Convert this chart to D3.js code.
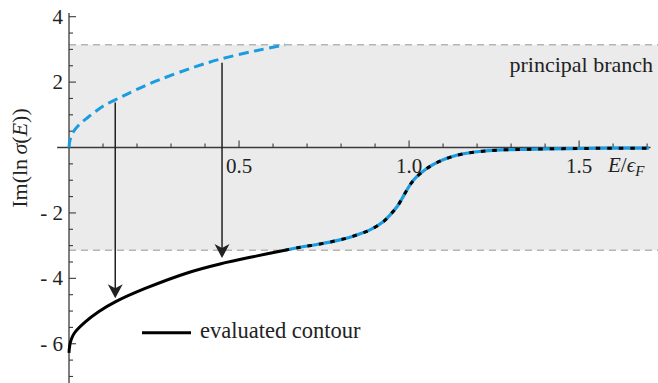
<!DOCTYPE html>
<html><head><meta charset="utf-8">
<script src="https://cdn.jsdelivr.net/npm/d3@7"></script>
<style>html,body{margin:0;padding:0;background:#fff;}svg{display:block;}</style>
</head><body>
<svg id="chart" width="658" height="383"></svg>
<script>
// ---- data ----
// principal-branch (blue dashed) part, below the jump at E ≈ 0.635
const xBlue = [0, 0.003, 0.013, 0.03, 0.052, 0.075, 0.101, 0.15, 0.2, 0.268, 0.366, 0.444, 0.55, 0.635];
const yBlue = [0, 0.23, 0.48, 0.70, 0.89, 1.08, 1.27, 1.53, 1.78, 2.08, 2.45, 2.70, 2.96, 3.14];
// evaluated contour (black solid) part below the jump
const xBlack = [0, 0.001, 0.004, 0.01, 0.019, 0.048, 0.087, 0.136, 0.224, 0.352, 0.444, 0.55, 0.635];
const yBlack = [-6.28, -6.15, -5.96, -5.78, -5.63, -5.33, -5.02, -4.72, -4.31, -3.82, -3.56, -3.32, -3.14];
// common part (both curves coincide) above the jump
const xCommon = [0.635, 0.68, 0.738, 0.79, 0.836, 0.885, 0.924, 0.945, 0.964, 0.98, 0.993, 1.007, 1.022, 1.052, 1.086, 1.12, 1.16, 1.21, 1.258, 1.33, 1.405, 1.5, 1.6, 1.705];
const yCommon = [-3.14, -3.05, -2.95, -2.84, -2.71, -2.52, -2.27, -2.05, -1.82, -1.55, -1.31, -1.08, -0.90, -0.64, -0.44, -0.30, -0.19, -0.12, -0.08, -0.06, -0.04, -0.03, -0.02, -0.02];
// arrows: x position, start y, end y
const arrowX = [0.136, 0.45];
const arrowFrom = [1.38, 2.59];
const arrowTo = [-4.61, -3.38];
// ticks
const xMajorTicks = [0.5, 1.0, 1.5];
const xTickLabels = ["0.5", "1.0", "1.5"];
const yMajorTicks = [4, 2, -2, -4, -6];
const yTickLabels = ["4", "2", "- 2", "- 4", "- 6"];
const branchBounds = [Math.PI, -Math.PI];
const legendLabel = "evaluated contour";
const bandLabel = "principal branch";

// ---- drawing ----
const svg = d3.select("#chart");
const FONT = "'Liberation Serif', 'Times New Roman', serif";
const x = d3.scaleLinear().domain([0, 1.732]).range([69, 658]);
const y = d3.scaleLinear().domain([-7.2, 4.113]).range([383, 13]);
const blue = "#1a9ce0";
const axisCol = "#3a3a3a";

// shaded principal-branch band
svg.append("rect")
  .attr("x", x(0)).attr("y", y(branchBounds[0]))
  .attr("width", x(1.732) - x(0)).attr("height", y(branchBounds[1]) - y(branchBounds[0]))
  .attr("fill", "#ebebeb");
branchBounds.forEach(b => {
  svg.append("line")
    .attr("x1", x(0)).attr("x2", x(1.732)).attr("y1", y(b)).attr("y2", y(b))
    .attr("stroke", "#b5b5b5").attr("stroke-width", 1.3).attr("stroke-dasharray", "7,5");
});

// axes
svg.append("line").attr("x1", x(-0.035)).attr("x2", x(1.71)).attr("y1", y(0)).attr("y2", y(0))
  .attr("stroke", axisCol).attr("stroke-width", 1.3);
svg.append("line").attr("x1", x(0)).attr("x2", x(0)).attr("y1", y(4.11)).attr("y2", 383)
  .attr("stroke", axisCol).attr("stroke-width", 1.3);

// x ticks
d3.range(1, 18).map(i => i / 10).forEach(v => {
  const major = xMajorTicks.some(m => Math.abs(m - v) < 1e-9);
  svg.append("line").attr("x1", x(v)).attr("x2", x(v))
    .attr("y1", y(0)).attr("y2", y(0) - (major ? 7 : 4))
    .attr("stroke", axisCol).attr("stroke-width", 1.1);
});
xMajorTicks.forEach((v, i) => {
  svg.append("text").attr("x", x(v)).attr("y", y(0) + 25)
    .attr("text-anchor", "middle").attr("font-family", FONT).attr("font-size", 21)
    .attr("fill", "#222").text(xTickLabels[i]);
});
// y ticks
d3.range(-14, 9).map(i => i / 2).forEach(v => {
  if (v === 0) return;
  const major = yMajorTicks.includes(v);
  svg.append("line").attr("x1", x(0)).attr("x2", x(0) + (major ? 7 : 4))
    .attr("y1", y(v)).attr("y2", y(v))
    .attr("stroke", axisCol).attr("stroke-width", 1.1);
});
yMajorTicks.forEach((v, i) => {
  svg.append("text").attr("x", x(0) - 6).attr("y", y(v) + 7)
    .attr("text-anchor", "end").attr("font-family", FONT).attr("font-size", 21)
    .attr("fill", "#222").attr("xml:space", "preserve").style("white-space", "pre")
    .text(yTickLabels[i]);
});

// curves
const line = d3.line().x(d => x(d[0])).y(d => y(d[1])).curve(d3.curveCatmullRom.alpha(0.5));
const ptsBlue = xBlue.map((v, i) => [v, yBlue[i]]);
const ptsBlack = xBlack.map((v, i) => [v, yBlack[i]]);
const ptsCommon = xCommon.map((v, i) => [v, yCommon[i]]);

svg.append("path").attr("d", line(ptsBlue)).attr("fill", "none")
  .attr("stroke", blue).attr("stroke-width", 3).attr("stroke-dasharray", "10,5.5");
svg.append("path").attr("d", line(ptsCommon)).attr("fill", "none")
  .attr("stroke", blue).attr("stroke-width", 3.2);
svg.append("path").attr("d", line(ptsCommon)).attr("fill", "none")
  .attr("stroke", "#000").attr("stroke-width", 3).attr("stroke-dasharray", "4.5,7");
svg.append("path").attr("d", line(ptsBlack)).attr("fill", "none")
  .attr("stroke", "#000").attr("stroke-width", 3);

// arrows
arrowX.forEach((ax, i) => {
  const px = x(ax), y0 = y(arrowFrom[i]), y1 = y(arrowTo[i]);
  svg.append("line").attr("x1", px).attr("x2", px).attr("y1", y0).attr("y2", y1 - 8)
    .attr("stroke", "#222").attr("stroke-width", 1.5);
  svg.append("path")
    .attr("d", `M${px},${y1} L${px - 7.5},${y1 - 14} L${px},${y1 - 10} L${px + 7.5},${y1 - 14} Z`)
    .attr("fill", "#222");
});

// legend
svg.append("line").attr("x1", 142).attr("x2", 191).attr("y1", 332.7).attr("y2", 332.7)
  .attr("stroke", "#000").attr("stroke-width", 3);
svg.append("text").attr("x", 200).attr("y", 338).attr("font-family", FONT)
  .attr("font-size", 22.5).attr("fill", "#222").text(legendLabel);

// band label
svg.append("text").attr("x", 653).attr("y", 72).attr("text-anchor", "end")
  .attr("font-family", FONT).attr("font-size", 22).attr("fill", "#222").text(bandLabel);

// x-axis label E/ϵ_F
const xl = svg.append("text").attr("x", 608).attr("y", 172).attr("font-family", FONT)
  .attr("font-size", 21).attr("fill", "#222");
xl.append("tspan").attr("font-style", "italic").text("E");
xl.append("tspan").text("/");
xl.append("tspan").attr("font-style", "italic").text("\u03F5");
xl.append("tspan").attr("font-style", "italic").attr("font-size", 15).attr("dy", 4).text("F");

// y-axis label Im(ln σ(E))
const yl = svg.append("text").attr("transform", "translate(27,158) rotate(-90)")
  .attr("text-anchor", "middle").attr("font-family", FONT).attr("font-size", 22).attr("fill", "#222");
yl.append("tspan").text("Im(ln\u2009");
yl.append("tspan").attr("font-style", "italic").text("\u03C3");
yl.append("tspan").text("(");
yl.append("tspan").attr("font-style", "italic").text("E");
yl.append("tspan").text("))");
</script>
</body></html>
